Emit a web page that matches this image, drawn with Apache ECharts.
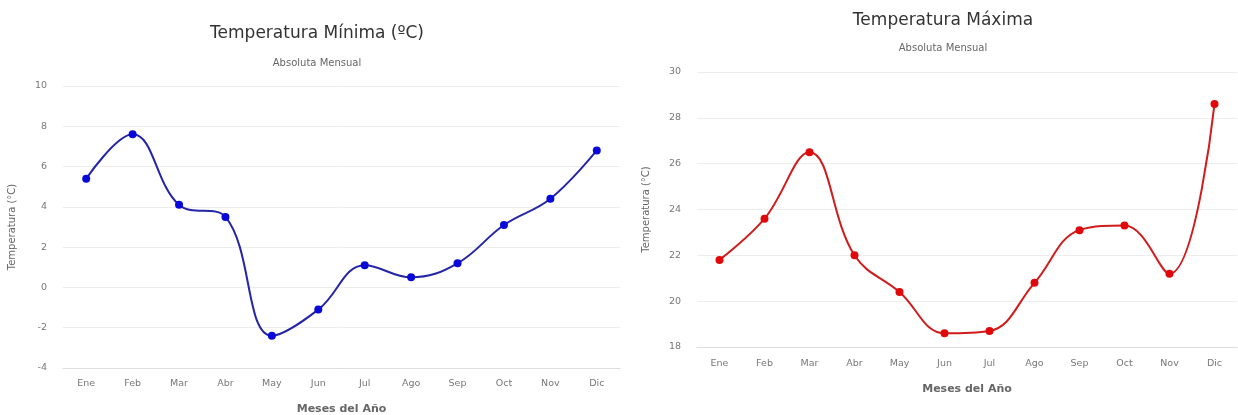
<!DOCTYPE html>
<html><head><meta charset="utf-8">
<script src="https://cdn.jsdelivr.net/npm/echarts@6/dist/echarts.min.js"></script>
<style>html,body{margin:0;padding:0;background:#fff}#c{width:1238px;height:415px}</style>
</head><body><div id="c"></div>
<script>
const months = ['Ene','Feb','Mar','Abr','May','Jun','Jul','Ago','Sep','Oct','Nov','Dic'];
const tempMin = [5.4, 7.6, 4.1, 3.5, -2.4, -1.1, 1.1, 0.5, 1.2, 3.1, 4.4, 6.8];
const tempMax = [21.8, 23.6, 26.5, 22.0, 20.4, 18.6, 18.7, 20.8, 23.1, 23.3, 21.2, 28.6];
const minTicks = {min: -4, max: 10, interval: 2};
const maxTicks = {min: 18, max: 30, interval: 2};

const FONT = 'DejaVu Sans';
const chart = echarts.init(document.getElementById('c'), null, {renderer: 'canvas'});
function xAxis(idx, gap, margin) {
  return {
    type: 'category', gridIndex: idx, data: months, boundaryGap: true,
    name: 'Meses del Año', nameLocation: 'middle', nameGap: gap,
    nameTextStyle: {color: '#666', fontSize: 11, fontWeight: 'bold', fontFamily: FONT},
    axisLine: {onZero: false, lineStyle: {color: '#dedede', width: 1}},
    axisTick: {show: false},
    axisLabel: {color: '#777', fontSize: 9.5, margin: margin, fontFamily: FONT}
  };
}
function yAxis(idx, t) {
  return {
    type: 'value', gridIndex: idx, min: t.min, max: t.max, interval: t.interval,
    name: 'Temperatura (°C)', nameLocation: 'middle', nameGap: 46, nameRotate: 90,
    nameTextStyle: {color: '#666', fontSize: 10, fontFamily: FONT},
    axisLine: {show: false}, axisTick: {show: false},
    axisLabel: {color: '#777', fontSize: 9.5, margin: 16, fontFamily: FONT},
    splitLine: {lineStyle: {color: '#ededed', width: 1}}
  };
}
chart.setOption({
  animation: false,
  title: [
    {text: 'Temperatura Mínima (ºC)', subtext: 'Absoluta Mensual', left: 312, top: 20, textAlign: 'center',
     itemGap: 16,
     textStyle: {color: '#333', fontSize: 17, fontWeight: 'normal', fontFamily: FONT},
     subtextStyle: {color: '#666', fontSize: 10, fontFamily: FONT}},
    {text: 'Temperatura Máxima', subtext: 'Absoluta Mensual', left: 938, top: 7, textAlign: 'center',
     itemGap: 14,
     textStyle: {color: '#333', fontSize: 17, fontWeight: 'normal', fontFamily: FONT},
     subtextStyle: {color: '#666', fontSize: 10, fontFamily: FONT}}
  ],
  grid: [
    {left: 63, width: 557, top: 86, height: 282, outerBoundsMode: 'none'},
    {left: 697, width: 540, top: 72, height: 275, outerBoundsMode: 'none'}
  ],
  xAxis: [xAxis(0, 36, 11), xAxis(1, 37, 12)],
  yAxis: [yAxis(0, minTicks), yAxis(1, maxTicks)],
  series: [
    {type: 'line', xAxisIndex: 0, yAxisIndex: 0, data: tempMin, smooth: 0.4,
     symbol: 'circle', symbolSize: 8,
     lineStyle: {color: '#2525a8', width: 2}, itemStyle: {color: '#0808d8'}},
    {type: 'line', xAxisIndex: 1, yAxisIndex: 1, data: tempMax, smooth: 0.4,
     symbol: 'circle', symbolSize: 8,
     lineStyle: {color: '#cf1c1c', width: 2}, itemStyle: {color: '#e00808'}}
  ]
});
</script></body></html>
